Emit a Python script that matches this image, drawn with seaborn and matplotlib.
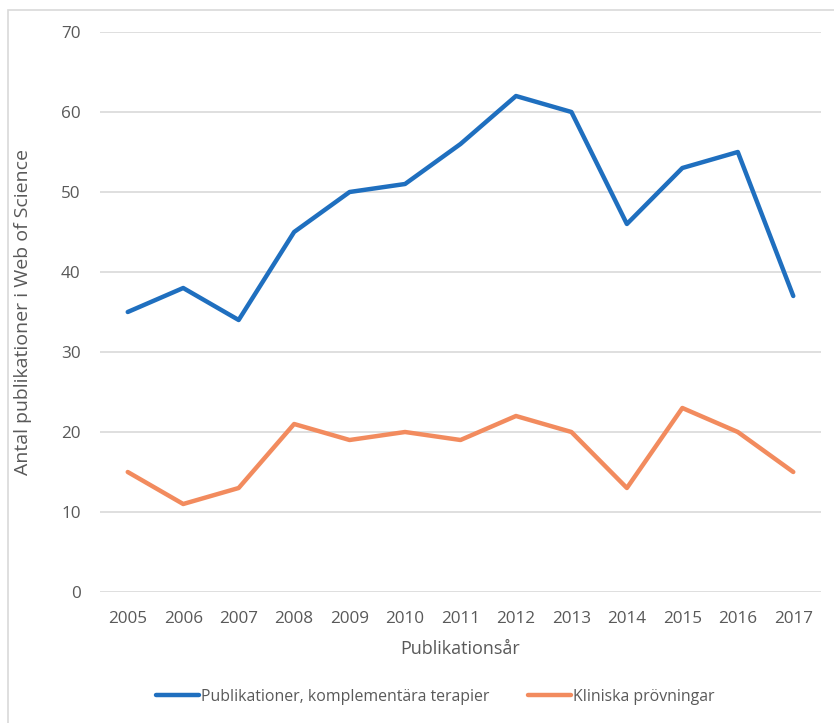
import matplotlib
matplotlib.use("Agg")
import matplotlib.pyplot as plt
import seaborn as sns
import pandas as pd
from matplotlib.patches import Rectangle
from matplotlib.lines import Line2D

years = ["2005", "2006", "2007", "2008", "2009", "2010", "2011", "2012", "2013", "2014", "2015", "2016", "2017"]
publikationer = [35, 38, 34, 45, 50, 51, 56, 62, 60, 46, 53, 55, 37]
kliniska = [15, 11, 13, 21, 19, 20, 19, 22, 20, 13, 23, 20, 15]
series_names = ["Publikationer, komplementära terapier", "Kliniska prövningar"]
y_ticks = [0, 10, 20, 30, 40, 50, 60, 70]

sns.set_theme(style="white")
plt.rcParams['font.family'] = ['Open Sans', 'DejaVu Sans']

df = pd.DataFrame({
    "year": years * 2,
    "value": publikationer + kliniska,
    "series": [series_names[0]] * len(years) + [series_names[1]] * len(years),
})

fig = plt.figure(figsize=(8.34, 7.23), dpi=100)
ax = fig.add_axes([100/834, 1 - 592/723, (821 - 100)/834, (592 - 32)/723])

palette = {series_names[0]: "#1F6FBF", series_names[1]: "#F28B5E"}
sns.lineplot(data=df, x="year", y="value", hue="series", palette=palette,
             linewidth=3.2, ax=ax, sort=False, legend=False)

ax.set_xlim(-0.5, len(years) - 0.5)
ax.set_ylim(0, 70)
ax.set_yticks(y_ticks)
ax.yaxis.grid(True, color="#D9D9D9", linewidth=1.2)
ax.set_axisbelow(True)
for s in ax.spines.values():
    s.set_visible(False)
ax.tick_params(axis="both", length=0, colors="#595959", labelsize=12.3)
ax.tick_params(axis="x", pad=14)
ax.tick_params(axis="y", pad=14)
ax.set_xlabel("Publikationsår", color="#595959", fontsize=13, labelpad=9)
ax.set_ylabel("Antal publikationer i Web of Science", color="#595959", fontsize=14, labelpad=21)

handles = [Line2D([0], [0], color=palette[n], linewidth=3.2) for n in series_names]
fig.legend(handles, series_names, loc="center", bbox_to_anchor=(0.522, 1 - 697/723),
           ncol=2, frameon=False, fontsize=11.4, handlelength=2.7, handletextpad=0.15,
           columnspacing=2.4, labelcolor="#595959")

fig.patches.append(Rectangle((8/834, -0.1), 1.2, 1 - 10/723 + 0.1, transform=fig.transFigure,
                             fill=False, edgecolor="#D9D9D9", linewidth=1.2))

fig.savefig("out.png", dpi=100)
